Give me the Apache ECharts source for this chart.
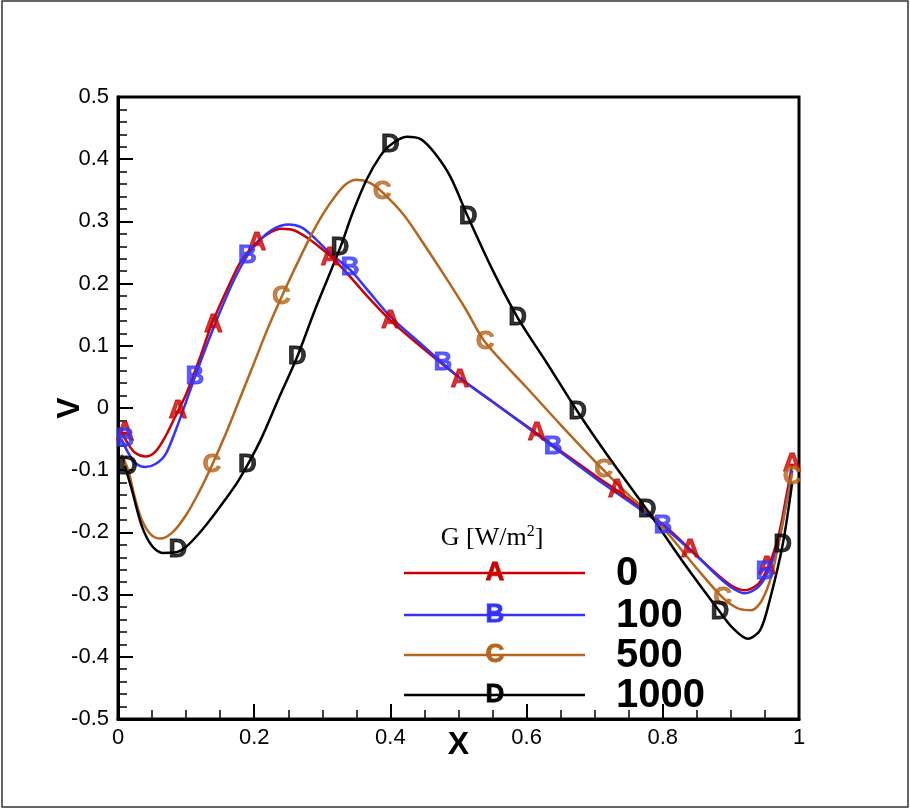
<!DOCTYPE html>
<html>
<head>
<meta charset="utf-8">
<script src="https://cdn.jsdelivr.net/npm/echarts@6/dist/echarts.min.js"></script>
<style>
  html, body { margin: 0; padding: 0; background: #fff; }
  #main { width: 910px; height: 809px; }
</style>
</head>
<body>
<div id="main"></div>
<script>
// curves, [x, V]
var curveA = [[0.005,-0.038],[0.015,-0.058],[0.025,-0.072],[0.04,-0.078],[0.055,-0.07],[0.07,-0.045],[0.088,-0.005],[0.1,0.022],[0.12,0.08],[0.137,0.133],[0.16,0.19],[0.18,0.235],[0.2,0.262],[0.22,0.28],[0.24,0.288],[0.26,0.285],[0.28,0.272],[0.3,0.255],[0.316,0.24],[0.34,0.212],[0.37,0.175],[0.4,0.141],[0.45,0.094],[0.5,0.05],[0.55,0.01],[0.6,-0.029],[0.65,-0.069],[0.7,-0.108],[0.75,-0.146],[0.8,-0.187],[0.84,-0.227],[0.87,-0.258],[0.9,-0.285],[0.92,-0.293],[0.94,-0.283],[0.955,-0.255],[0.97,-0.205],[0.98,-0.15],[0.99,-0.09]];
var curveB = [[0.005,-0.05],[0.015,-0.072],[0.025,-0.088],[0.04,-0.095],[0.055,-0.09],[0.07,-0.074],[0.085,-0.035],[0.1,0.01],[0.113,0.05],[0.13,0.1],[0.15,0.155],[0.17,0.205],[0.19,0.245],[0.21,0.272],[0.23,0.289],[0.25,0.295],[0.27,0.29],[0.29,0.272],[0.31,0.25],[0.341,0.222],[0.37,0.185],[0.4,0.147],[0.45,0.098],[0.477,0.072],[0.5,0.05],[0.55,0.01],[0.6,-0.03],[0.64,-0.063],[0.7,-0.112],[0.75,-0.15],[0.8,-0.19],[0.85,-0.238],[0.88,-0.27],[0.9,-0.288],[0.92,-0.298],[0.94,-0.288],[0.955,-0.262],[0.97,-0.215],[0.98,-0.16],[0.99,-0.1]];
var curveC = [[0.005,-0.075],[0.015,-0.1],[0.025,-0.145],[0.035,-0.18],[0.048,-0.203],[0.062,-0.21],[0.08,-0.2],[0.1,-0.172],[0.12,-0.133],[0.138,-0.092],[0.16,-0.037],[0.18,0.018],[0.2,0.073],[0.22,0.128],[0.24,0.178],[0.26,0.225],[0.28,0.27],[0.3,0.31],[0.32,0.342],[0.335,0.36],[0.35,0.367],[0.37,0.362],[0.388,0.347],[0.42,0.31],[0.45,0.262],[0.48,0.212],[0.51,0.16],[0.539,0.106],[0.6,0.033],[0.65,-0.027],[0.713,-0.1],[0.75,-0.14],[0.78,-0.168],[0.81,-0.205],[0.85,-0.258],[0.888,-0.305],[0.91,-0.322],[0.93,-0.325],[0.945,-0.31],[0.96,-0.268],[0.975,-0.19],[0.99,-0.105]];
var curveD = [[0.01,-0.093],[0.02,-0.13],[0.035,-0.19],[0.05,-0.222],[0.065,-0.233],[0.085,-0.232],[0.1,-0.223],[0.118,-0.203],[0.138,-0.176],[0.157,-0.148],[0.175,-0.12],[0.19,-0.092],[0.21,-0.05],[0.235,0.013],[0.263,0.082],[0.29,0.16],[0.326,0.257],[0.345,0.315],[0.365,0.367],[0.385,0.405],[0.4,0.423],[0.424,0.436],[0.445,0.432],[0.465,0.41],[0.488,0.372],[0.514,0.307],[0.55,0.222],[0.587,0.145],[0.63,0.072],[0.675,-0.006],[0.72,-0.078],[0.777,-0.164],[0.83,-0.248],[0.884,-0.328],[0.903,-0.354],[0.925,-0.371],[0.943,-0.357],[0.957,-0.309],[0.976,-0.22],[0.99,-0.12]];

// letter symbols on the curves
var markA = [[0.01,-0.04],[0.088,-0.005],[0.14,0.133],[0.204,0.265],[0.311,0.241],[0.4,0.14],[0.502,0.046],[0.615,-0.04],[0.733,-0.132],[0.84,-0.228],[0.953,-0.256],[0.99,-0.09]];
var markB = [[0.01,-0.05],[0.113,0.05],[0.19,0.245],[0.341,0.225],[0.477,0.072],[0.639,-0.062],[0.8,-0.19],[0.95,-0.264]];
var markC = [[0.138,-0.092],[0.24,0.178],[0.388,0.347],[0.539,0.106],[0.713,-0.1],[0.888,-0.305],[0.99,-0.11]];
var markD = [[0.015,-0.095],[0.088,-0.228],[0.19,-0.092],[0.263,0.082],[0.326,0.257],[0.4,0.423],[0.514,0.307],[0.587,0.145],[0.675,-0.006],[0.777,-0.164],[0.884,-0.328],[0.976,-0.22]];

var seriesNames = ['0', '100', '500', '1000'];
var letters = ['A', 'B', 'C', 'D'];
var colors = ['#cc0000', '#3333ff', '#b5651d', '#000000'];
var curves = [curveA, curveB, curveC, curveD];
var marks = [markA, markB, markC, markD];

var chart = echarts.init(document.getElementById('main'));

var series = [];
for (var i = 0; i < curves.length; i++) {
    series.push({
        name: seriesNames[i],
        type: 'line',
        data: curves[i],
        smooth: 0.3,
        showSymbol: false,
        lineStyle: { color: colors[i], width: 2.5 },
        z: 2
    });
}
for (var j = 0; j < marks.length; j++) {
    (function(k) {
        series.push({
            name: seriesNames[k] + '_mark',
            type: 'scatter',
            data: marks[k],
            symbolSize: 1,
            itemStyle: { color: 'rgba(0,0,0,0)' },
            label: {
                show: true,
                position: 'inside',
                formatter: function() { return letters[k]; },
                color: colors[k],
                textBorderColor: colors[k],
                textBorderWidth: 0.8,
                fontFamily: 'Liberation Sans, Arial, sans-serif',
                fontWeight: 'bold',
                fontSize: 26
            },
            z: 3
        });
    })(j);
}

// legend drawn by hand
var legendX0 = 404, legendX1 = 585, legendY = [573, 615, 655, 695];
var graphic = [{
    type: 'rect',
    shape: { x: 2, y: 1, width: 906, height: 806 },
    style: { fill: 'none', stroke: '#333', lineWidth: 1.5 },
    silent: true
}, {
    type: 'text',
    x: 492, y: 538,
    style: {
        text: '{a|G [W/m}{s|2}{a|]}',
        align: 'center', verticalAlign: 'middle',
        rich: {
            a: { fontFamily: 'Liberation Serif, Times New Roman, serif', fontSize: 26, fill: '#000' },
            s: { fontFamily: 'Liberation Serif, Times New Roman, serif', fontSize: 16, fill: '#000', padding: [0, 0, 12, 0] }
        }
    }
}];
for (var m = 0; m < 4; m++) {
    graphic.push({
        type: 'line',
        shape: { x1: legendX0, y1: legendY[m], x2: legendX1, y2: legendY[m] },
        style: { stroke: colors[m], lineWidth: 2.5 }
    });
    graphic.push({
        type: 'text',
        x: 495, y: legendY[m],
        style: {
            text: letters[m], fill: colors[m],
            stroke: colors[m], lineWidth: 0.8,
            font: 'bold 26px "Liberation Sans", Arial, sans-serif',
            align: 'center', verticalAlign: 'middle'
        }
    });
    graphic.push({
        type: 'text',
        x: 616, y: legendY[m] + 1,
        style: {
            text: seriesNames[m], fill: '#000',
            font: 'bold 40px "Liberation Sans", Arial, sans-serif',
            align: 'left', verticalAlign: 'middle'
        }
    });
}

var option = {
    animation: false,
    backgroundColor: '#fff',
    grid: {
        left: 118, right: 111, top: 97, bottom: 90,
        show: true, borderColor: '#000', borderWidth: 3, backgroundColor: 'transparent'
    },
    xAxis: {
        type: 'value',
        min: 0, max: 1, interval: 0.2,
        name: 'X',
        nameLocation: 'middle',
        nameGap: 10,
        nameMoveOverlap: false,
        nameTextStyle: { fontFamily: 'Liberation Sans, Arial, sans-serif', fontWeight: 'bold', fontSize: 32, color: '#000' },
        axisLine: { onZero: false, lineStyle: { color: '#000', width: 3 } },
        axisTick: { inside: true, length: 15, lineStyle: { color: '#000', width: 2 } },
        minorTick: { show: true, splitNumber: 4, length: 9, lineStyle: { color: '#000', width: 1.5 } },
        splitLine: { show: false },
        axisLabel: {
            margin: 8,
            color: '#000',
            fontFamily: 'Liberation Sans, Arial, sans-serif',
            fontSize: 22,
            formatter: function(v) { return +v.toFixed(1) + ''; }
        }
    },
    yAxis: {
        type: 'value',
        min: -0.5, max: 0.5, interval: 0.1,
        name: 'V',
        nameLocation: 'middle',
        nameGap: 32,
        nameMoveOverlap: false,
        nameTextStyle: { fontFamily: 'Liberation Sans, Arial, sans-serif', fontWeight: 'bold', fontSize: 32, color: '#000' },
        axisLine: { onZero: false, lineStyle: { color: '#000', width: 3 } },
        axisTick: { inside: true, length: 15, lineStyle: { color: '#000', width: 2 } },
        minorTick: { show: true, splitNumber: 5, length: 9, lineStyle: { color: '#000', width: 1.5 } },
        splitLine: { show: false },
        axisLabel: {
            margin: 9,
            color: '#000',
            fontFamily: 'Liberation Sans, Arial, sans-serif',
            fontSize: 22,
            formatter: function(v) { return +v.toFixed(1) + ''; }
        }
    },
    graphic: graphic,
    series: series
};

chart.setOption(option);
</script>
</body>
</html>
